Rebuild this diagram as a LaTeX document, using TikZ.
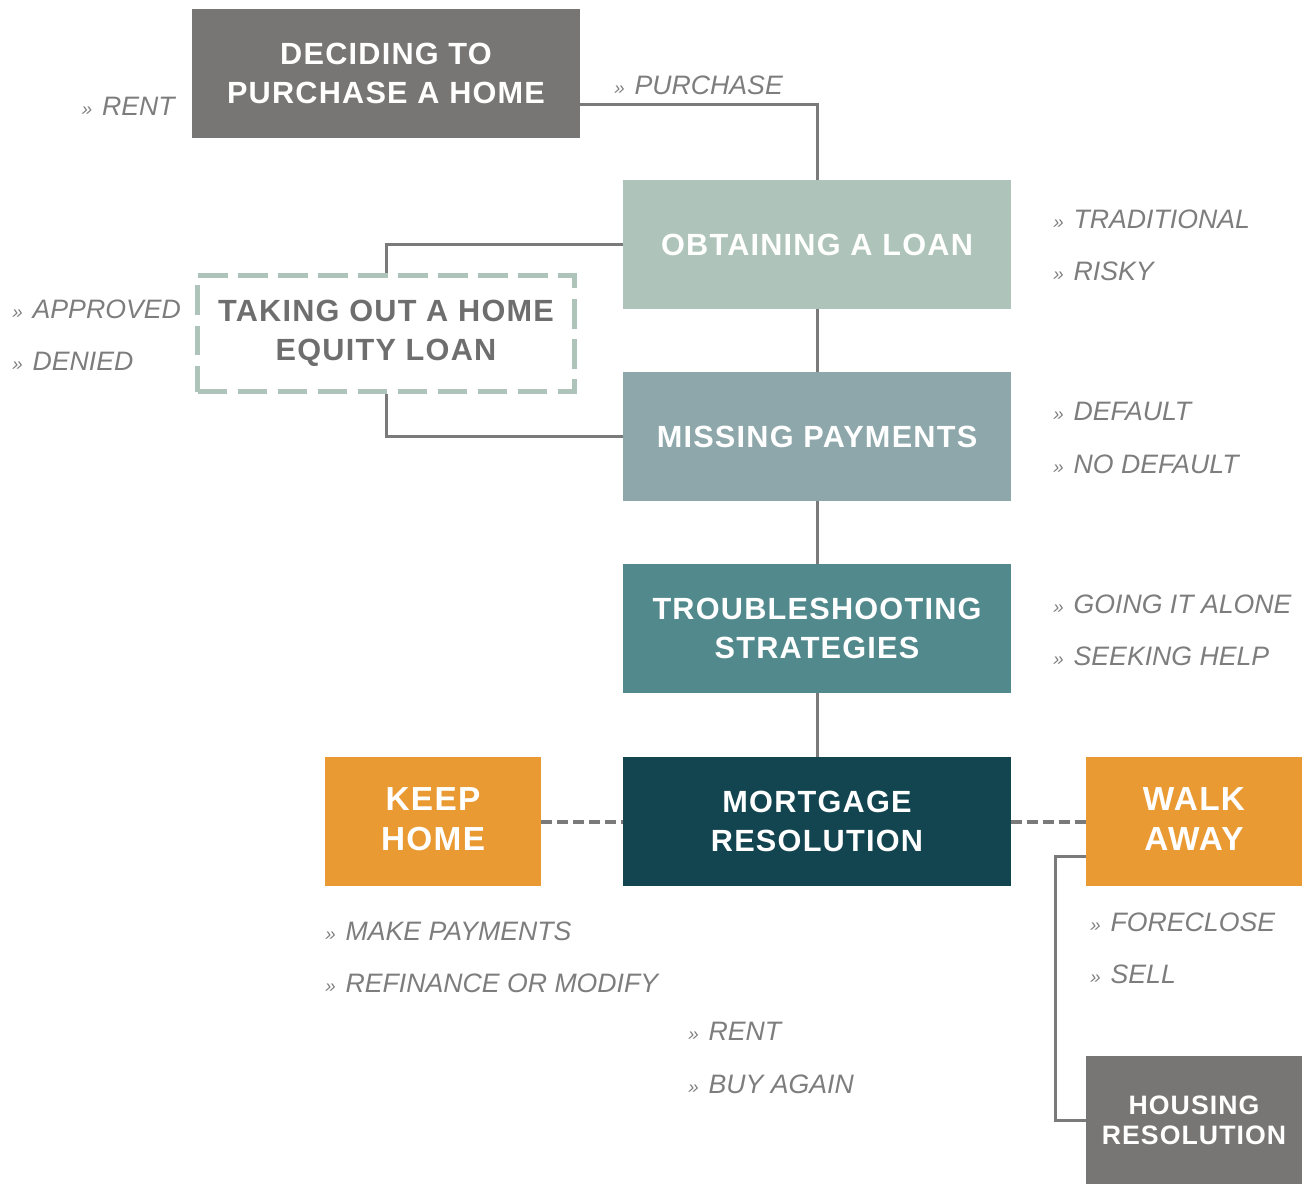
\documentclass[tikz,border=0pt]{standalone}
\usepackage{fontspec}
\usepackage{xcolor}
\setmainfont{Liberation Sans}
\newfontfamily\stagefont[LetterSpace=4]{Liberation Sans}
\definecolor{stepgray}{HTML}{777674}
\definecolor{loansage}{HTML}{AEC3BA}
\definecolor{misssage}{HTML}{8DA7AA}
\definecolor{troubleteal}{HTML}{51898C}
\definecolor{mortgageteal}{HTML}{134550}
\definecolor{choiceorange}{HTML}{EA9A33}
\definecolor{linkgray}{HTML}{7A7A7A}
\definecolor{optgray}{HTML}{7D7D7D}
\definecolor{equitytext}{HTML}{6E6E6E}
\newcommand{\optmark}{{\fontsize{14}{14}\selectfont\char"BB}\hspace{7.5pt}}
\tikzset{stage/.style={rectangle,inner sep=0pt,minimum width=291pt,minimum height=96.75pt,
    align=center,text=white,font={\stagefont\bfseries\fontsize{23}{29.5}\selectfont}}}
\tikzset{link/.style={draw=linkgray,line width=2.25pt}}
\tikzset{dlink/.style={draw=linkgray,line width=3pt,dash pattern=on 8pt off 4pt}}
\tikzset{opt/.style={anchor=west,inner sep=0pt,text=optgray,font={\itshape\fontsize{20}{24}\selectfont}}}

\begin{document}
\begin{tikzpicture}[x=0.75pt,y=-0.75pt]
    \useasboundingbox (0,0) rectangle (1304,1184);
    % main column
    \node[stage,fill=stepgray] (decide) at (386,73.5) {DECIDING TO\\PURCHASE A HOME};
    \node[stage,fill=loansage] (loan) at (817,244.5) {OBTAINING A LOAN};
    \node[stage,fill=misssage] (missing) at (817,436.5) {MISSING PAYMENTS};
    \node[stage,fill=troubleteal] (trouble) at (817,628.5) {TROUBLESHOOTING\\STRATEGIES};
    \node[stage,fill=mortgageteal] (mortgage) at (817,821.5) {MORTGAGE\\RESOLUTION};
    \node[stage,fill=choiceorange,minimum width=162pt,font={\stagefont\bfseries\fontsize{25}{30}\selectfont}] (keep) at (433,821.5) {KEEP\\HOME\rule{0pt}{0pt}\vspace{3pt}};
    \node[stage,fill=choiceorange,minimum width=162pt,font={\stagefont\bfseries\fontsize{25}{30}\selectfont}] (walk) at (1194,821.5) {WALK\\AWAY\rule{0pt}{0pt}\vspace{3pt}};
    \node[stage,fill=stepgray,minimum width=162pt,minimum height=96pt,font={\stagefont\bfseries\fontsize{20}{22.5}\selectfont}] (housing) at (1194,1120) {HOUSING\\RESOLUTION};
    \node[stage,draw=loansage,line width=3.75pt,dash pattern=on 22pt off 8pt,text=equitytext,
        minimum width=282.75pt,minimum height=87pt] (equity) at (386,333.5) {TAKING OUT A HOME\\EQUITY LOAN};

    % connectors
    \draw[link] (decide.east) ++(0,31.5) -| (loan.north);
    \draw[link] (loan.west) -| (equity.north);
    \draw[link] (equity.south) |- (missing.west);
    \draw[link] (loan.south) -- (missing.north);
    \draw[link] (missing.south) -- (trouble.north);
    \draw[link] (trouble.south) -- (mortgage.north);
    \draw[dlink] (keep.east) -- (mortgage.west);
    \draw[dlink] (mortgage.east) -- (walk.west);
    \draw[link] (walk.west) ++(0,34.5) -- ++(-30,0) |- (housing.west);

    % options
    \node[opt,anchor=east] (rent) at (175,106) {\optmark RENT};
    \node[opt] (purchase) at (614,85) {\optmark PURCHASE};
    \node[opt] (trad) at (1053,219) {\optmark TRADITIONAL};
    \node[opt] (risky) at (1053,271) {\optmark RISKY};
    \node[opt] (approved) at (12,309) {\optmark APPROVED};
    \node[opt] (denied) at (12,361) {\optmark DENIED};
    \node[opt] (default) at (1053,411) {\optmark DEFAULT};
    \node[opt] (nodefault) at (1053,464) {\optmark NO DEFAULT};
    \node[opt] (alone) at (1053,604) {\optmark GOING IT ALONE};
    \node[opt] (help) at (1053,656) {\optmark SEEKING HELP};
    \node[opt] (payments) at (325,931) {\optmark MAKE PAYMENTS};
    \node[opt] (refinance) at (325,983) {\optmark REFINANCE OR MODIFY};
    \node[opt] (foreclose) at (1090,922) {\optmark FORECLOSE};
    \node[opt] (sell) at (1090,974) {\optmark SELL};
    \node[opt] (rentagain) at (688,1031) {\optmark RENT};
    \node[opt] (buyagain) at (688,1084) {\optmark BUY AGAIN};
\end{tikzpicture}
\end{document}
